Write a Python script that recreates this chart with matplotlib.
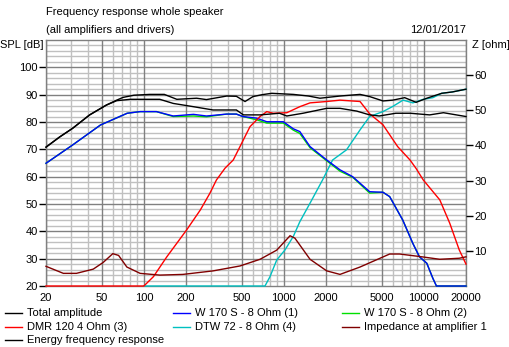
import matplotlib
matplotlib.use("Agg")
import matplotlib.pyplot as plt
from matplotlib.lines import Line2D
import numpy as np

# ---------------- data ----------------
total_f = [20, 25, 31, 41, 54, 64, 71, 85, 110, 140, 172, 238, 280, 391, 458, 528, 602, 700,
           820, 1167, 1500, 1811, 2518, 3500, 4100, 5106, 6000, 7300, 8800, 10500, 13400, 16000, 20000]
total_db = [70.8, 74.5, 77.7, 82.6, 86.2, 88.0, 89.0, 89.8, 90.1, 90.1, 88.3, 88.7, 88.2, 89.5, 89.4,
            87.5, 89.3, 90.0, 90.5, 90.1, 89.5, 88.7, 89.5, 90.1, 89.3, 87.7, 88.0, 88.9, 87.2, 88.7,
            90.5, 91.0, 92.0]

energy_f = [20, 25, 31, 41, 54, 64, 80, 110, 130, 162, 226, 312, 458, 514, 676, 930, 1050, 1370,
            2024, 2518, 3310, 4100, 4800, 6300, 8000, 11000, 13800, 20000]
energy_db = [70.8, 74.5, 77.7, 82.6, 86.2, 87.8, 88.3, 88.3, 88.3, 86.8, 85.6, 84.4, 84.4, 82.6,
             82.6, 83.2, 82.2, 83.2, 85.0, 85.0, 84.0, 82.6, 82.2, 83.2, 83.2, 82.6, 83.4, 82.0]

w1_f = [20, 31, 49, 76, 94, 123, 162, 226, 280, 390, 458, 510, 640, 755, 990, 1170, 1300, 1538,
        2024, 2518, 3100, 4100, 5100, 5700, 7070, 8340, 9300, 10500, 11600, 12300, 20000]
w1_db = [64.9, 71.6, 78.9, 83.2, 83.8, 83.8, 82.2, 82.8, 82.2, 82.9, 82.9, 82.0, 81.4, 80.1, 80.1,
         77.5, 76.5, 71.0, 66.1, 62.5, 60.0, 54.5, 54.3, 52.7, 44.1, 35.6, 30.7, 28.3, 22.8, 20.0, 20.0]

w2_f = [20, 31, 49, 76, 94, 123, 162, 226, 280, 390, 458, 510, 640, 755, 990, 1170, 1300, 1538,
        2024, 2518, 3100, 4100, 5100, 5700, 7070, 8340, 9300, 10500, 11600, 12300, 20000]
w2_db = [64.9, 71.6, 78.9, 83.2, 83.8, 83.8, 82.0, 82.2, 81.9, 82.9, 82.9, 82.0, 80.8, 79.6, 79.6,
         77.0, 75.8, 70.6, 65.8, 62.0, 59.8, 54.0, 54.3, 52.7, 44.1, 35.6, 30.7, 28.3, 22.8, 20.0, 20.0]

dmr_f = [20, 100, 117, 146, 202, 253, 296, 330, 380, 435, 486, 573, 676, 755, 840, 1050, 1300,
         1538, 2024, 2518, 3500, 4100, 5100, 6500, 7962, 8800, 9900, 13000, 15300, 17900, 20000]
dmr_db = [20.0, 20.0, 23.4, 30.7, 40.5, 47.8, 53.9, 58.8, 63.1, 66.1, 71.0, 78.3, 82.0, 83.8, 83.2,
          83.4, 85.6, 87.0, 87.5, 88.0, 87.5, 83.0, 79.0, 71.0, 66.1, 63.0, 58.8, 51.5, 43.0, 33.2, 28.0]

dtw_f = [100, 733, 796, 889, 1019, 1170, 1300, 1538, 1890, 2230, 2800, 3500, 4100, 5100, 6000,
         7100, 8350, 9900, 11600, 13400, 16000, 20000]
dtw_db = [20.0, 20.0, 23.4, 29.5, 33.2, 38.2, 43.5, 50.3, 58.8, 66.1, 69.8, 77.1, 82.0, 83.8, 85.7,
          88.0, 87.0, 88.3, 88.9, 90.5, 91.0, 92.0]

imp_f = [20, 26.6, 33, 43.5, 51.2, 60, 66, 75.6, 94, 130, 190, 312, 486, 676, 889, 1107, 1200,
         1538, 2024, 2518, 3500, 5700, 6700, 9300, 13000, 17900, 20000]
imp_ohm = [5.6, 3.6, 3.6, 4.8, 6.7, 9.2, 8.7, 5.4, 3.6, 3.1, 3.3, 4.3, 5.7, 7.6, 10.2, 14.3, 13.6,
           7.6, 4.3, 3.3, 5.4, 9.1, 9.1, 8.4, 7.6, 7.9, 8.3]

x_ticks = [20, 50, 100, 200, 500, 1000, 2000, 5000, 10000, 20000]
x_ticklabels = ["20", "50", "100", "200", "500", "1000", "2000", "5000", "10000", "20000"]
spl_ticks = [20, 30, 40, 50, 60, 70, 80, 90, 100]
z_ticks = [10, 20, 30, 40, 50, 60]

legend_labels = ["Total amplitude", "W 170 S - 8 Ohm (1)", "W 170 S - 8 Ohm (2)",
                 "DMR 120 4 Ohm (3)", "DTW 72 - 8 Ohm (4)", "Impedance at amplifier 1",
                 "Energy frequency response"]

# ---------------- style ----------------
C_TOTAL = "#000000"
C_W1 = "#0000ff"
C_W2 = "#00e000"
C_DMR = "#ff0000"
C_DTW = "#00c0c0"
C_IMP = "#800000"
C_EN = "#000000"
GRID_LIGHT = "#c0c0c0"
GRID_DARK = "#808080"

plt.rcParams['font.family'] = ['Liberation Sans', 'DejaVu Sans']
FS = 8

fig = plt.figure(figsize=(5.10, 3.47), dpi=100)
L, R, B, T = 46 / 510, 466 / 510, 1 - 286 / 347, 1 - 40 / 347
ax = fig.add_axes([L, B, R - L, T - B])
ax.set_xscale('log')
ax.set_xlim(20, 20000)
ax.set_ylim(20, 110)

# grid
minor_f = []
for dec in [10, 100, 1000, 10000]:
    for m in range(2, 10):
        f = dec * m
        if 20 <= f <= 20000 and f not in x_ticks:
            minor_f.append(f)
for f in minor_f:
    ax.axvline(f, color=GRID_LIGHT, lw=1, zorder=0)
for y in range(22, 110, 2):
    if y % 10 != 0:
        ax.axhline(y, color=GRID_LIGHT, lw=1, zorder=0)
for f in x_ticks:
    ax.axvline(f, color=GRID_DARK, lw=1, zorder=0.5)
for y in range(30, 110, 10):
    ax.axhline(y, color=GRID_DARK, lw=1, zorder=0.5)

for s in ax.spines.values():
    s.set_color(GRID_DARK)
    s.set_linewidth(1)

ax.set_xticks(x_ticks)
ax.set_xticklabels(x_ticklabels, fontsize=FS)
ax.xaxis.set_minor_locator(matplotlib.ticker.NullLocator())
ax.tick_params(axis='x', length=0, pad=5)
ax.set_yticks(spl_ticks)
ax.set_yticklabels([str(v) for v in spl_ticks], fontsize=FS)
ax.tick_params(axis='y', length=5, width=1, color='black', pad=1)

ax2 = ax.twinx()
ax2.set_ylim(0, 70)
ax2.set_yticks(z_ticks)
ax2.set_yticklabels([str(v) for v in z_ticks], fontsize=FS)
ax2.tick_params(axis='y', length=5, width=1, color='black', pad=1)
for s in ax2.spines.values():
    s.set_visible(False)

lw = 1.0
kw = dict(lw=lw, clip_on=False, solid_joinstyle='miter')
ax.plot(dtw_f, dtw_db, color=C_DTW, zorder=3, **kw)
ax.plot(w2_f, w2_db, color=C_W2, zorder=3.2, **kw)
ax.plot(w1_f, w1_db, color=C_W1, zorder=3.3, **kw)
ax.plot(dmr_f, dmr_db, color=C_DMR, zorder=3.4, **kw)
ax.plot(energy_f, energy_db, color=C_EN, zorder=3.6, **kw)
ax.plot(total_f, total_db, color=C_TOTAL, zorder=3.7, **kw)
ax2.plot(imp_f, imp_ohm, color=C_IMP, zorder=3.5, **kw)

# texts
fig.text(46 / 510, 1 - 12 / 347, "Frequency response whole speaker", fontsize=FS, va='center', ha='left')
fig.text(46 / 510, 1 - 30 / 347, "(all amplifiers and drivers)", fontsize=FS, va='center', ha='left')
fig.text(466 / 510, 1 - 30 / 347, "12/01/2017", fontsize=FS, va='center', ha='right')
fig.text(0 / 510, 1 - 45 / 347, "SPL [dB]", fontsize=FS, va='center', ha='left')
fig.text(472 / 510, 1 - 45 / 347, "Z [ohm]", fontsize=FS, va='center', ha='left')

# legend
colors = [C_TOTAL, C_W1, C_W2, C_DMR, C_DTW, C_IMP, C_EN]
col_x = [5, 173, 342]
row_y = [313, 327, 340]
for i, (lab, c) in enumerate(zip(legend_labels, colors)):
    cx = col_x[i % 3]
    ry = row_y[i // 3]
    yy = 1 - ry / 347
    fig.add_artist(Line2D([cx / 510, (cx + 17) / 510], [yy, yy], color=c, lw=1))
    fig.text((cx + 22) / 510, yy, lab, fontsize=FS, va='center', ha='left')

fig.savefig("out.png", dpi=100)
